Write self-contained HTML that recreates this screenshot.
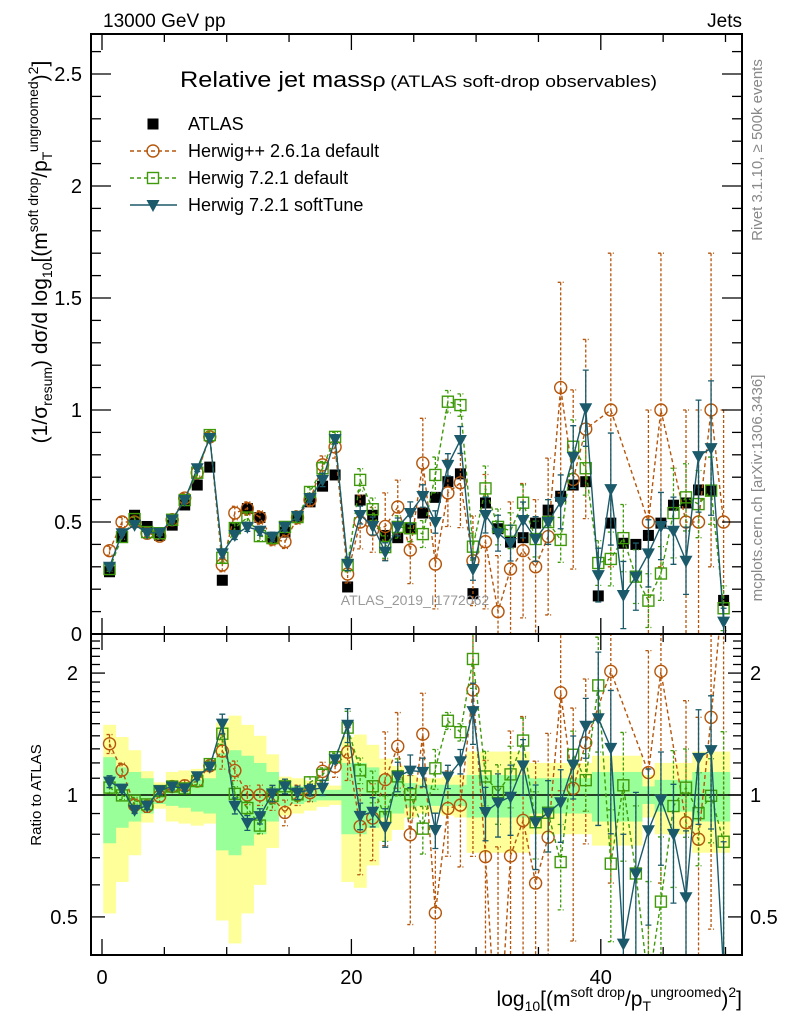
<!DOCTYPE html>
<html><head><meta charset="utf-8">
<style>
html,body{margin:0;padding:0;background:#fff;width:786px;height:1024px;overflow:hidden;}
svg{display:block;font-family:"Liberation Sans",Arial,sans-serif;}
</style></head>
<body>
<svg id="chart" width="786" height="1024" viewBox="0 0 786 1024" xmlns="http://www.w3.org/2000/svg">
<defs>
<clipPath id="clipMain"><rect x="91" y="34" width="651" height="600"/></clipPath>
<clipPath id="clipRatio"><rect x="91" y="634" width="651" height="321"/></clipPath>
</defs>
<rect x="0" y="0" width="786" height="1024" fill="#fff"/>
<g id="bands" clip-path="url(#clipRatio)"></g>
<g id="mainMarks" clip-path="url(#clipMain)"></g>
<g id="ratioMarks" clip-path="url(#clipRatio)"></g>
<g id="axes"></g>

<text x="103" y="27" font-size="19">13000 GeV pp</text>
<text x="742" y="27" font-size="19" text-anchor="end">Jets</text>
<text x="180" y="87" font-size="22" textLength="477" lengthAdjust="spacingAndGlyphs">Relative jet mass<tspan font-size="20">ρ</tspan><tspan font-size="17" dx="4">(ATLAS soft-drop observables)</tspan></text>
<text x="415" y="605" font-size="14" fill="#999" text-anchor="middle">ATLAS_2019_I1772062</text>
<text transform="translate(762,150) rotate(-90)" font-size="15" fill="#888" text-anchor="middle">Rivet 3.1.10, ≥ 500k events</text>
<text transform="translate(762,488) rotate(-90)" font-size="15" fill="#888" text-anchor="middle">mcplots.cern.ch [arXiv:1306.3436]</text>

<text transform="translate(47,252) rotate(-90)" font-size="21" text-anchor="middle">(1/σ<tspan font-size="14" dy="5">resum</tspan><tspan dy="-5">) dσ/d log</tspan><tspan font-size="14" dy="5">10</tspan><tspan dy="-5">[(m</tspan><tspan font-size="14" dy="-9">soft drop</tspan><tspan dy="9">/p</tspan><tspan font-size="14" dy="5">T</tspan><tspan font-size="14" dy="-14">ungroomed</tspan><tspan dy="9">)</tspan><tspan font-size="14" dy="-9">2</tspan><tspan dy="9">]</tspan></text>
<text transform="translate(41,795) rotate(-90)" font-size="15" text-anchor="middle">Ratio to ATLAS</text>
<text x="742" y="1006" font-size="21" text-anchor="end">log<tspan font-size="14" dy="5">10</tspan><tspan dy="-5">[(m</tspan><tspan font-size="14" dy="-9">soft drop</tspan><tspan dy="9">/p</tspan><tspan font-size="14" dy="5">T</tspan><tspan font-size="14" dy="-14">ungroomed</tspan><tspan dy="9">)</tspan><tspan font-size="14" dy="-9">2</tspan><tspan dy="9">]</tspan></text>

<g id="legend"></g>
</svg>
<script>
const atlas=[0.278,0.434,0.53,0.48,0.44,0.486,0.576,0.665,0.745,0.24,0.47,0.56,0.52,0.43,0.455,0.52,0.59,0.66,0.71,0.21,0.598,0.53,0.44,0.43,0.47,0.54,0.61,0.68,0.715,0.18,0.585,0.47,0.41,0.43,0.495,0.553,0.615,0.665,0.68,0.17,0.495,0.405,0.40,0.44,0.495,0.575,0.585,0.643,0.643,0.15];
const herwigpp=[0.372,0.5,0.5,0.45,0.437,0.51,0.607,0.72,0.88,0.308,0.54,0.56,0.52,0.424,0.412,0.52,0.598,0.755,0.835,0.268,0.5,0.465,0.48,0.567,0.375,0.763,0.312,0.63,0.675,0.327,0.412,0.1,0.29,0.372,0.3,0.435,1.1,0.69,0.915,null,1.0,null,null,0.5,1.0,null,0.5,0.5,1.0,0.5];
const herwigppErr=[0.02,0.02,0.02,0.015,0.015,0.015,0.02,0.02,0.02,0.03,0.03,0.03,0.03,0.03,0.03,0.03,0.03,0.04,0.05,0.04,0.12,0.1,0.15,0.12,0.15,0.2,0.2,0.15,0.2,0.2,0.3,0.25,0.3,0.3,0.3,0.35,0.47,0.4,0.4,0,0.7,0,0,0.5,0.7,0,0.5,0.5,0.7,0.5];
const herwig7=[0.29,0.433,0.513,0.455,0.45,0.51,0.598,0.72,0.888,0.34,0.473,0.52,0.437,0.428,0.478,0.522,0.634,0.74,0.88,0.308,0.688,0.557,0.388,0.478,0.472,0.446,0.71,1.037,1.022,0.39,0.65,0.478,0.461,0.586,0.424,0.5,0.42,0.836,0.74,0.317,0.335,0.428,0.256,0.149,0.27,0.54,0.61,0.58,0.64,0.115];
const herwig7Err=[0.01,0.01,0.01,0.01,0.01,0.01,0.01,0.015,0.015,0.02,0.02,0.02,0.02,0.02,0.02,0.02,0.02,0.03,0.02,0.03,0.05,0.05,0.05,0.05,0.06,0.06,0.08,0.05,0.05,0.06,0.1,0.08,0.08,0.08,0.08,0.1,0.1,0.12,0.12,0.1,0.12,0.15,0.12,0.12,0.12,0.2,0.15,0.15,0.15,0.1];
const softTune=[0.3,0.45,0.487,0.452,0.452,0.51,0.598,0.74,0.875,0.36,0.442,0.478,0.461,0.434,0.478,0.527,0.607,0.688,0.87,0.313,0.531,0.482,0.367,0.478,0.54,0.616,0.5,0.755,0.866,0.29,0.531,0.45,0.406,0.509,0.424,0.5,0.59,0.79,1.008,0.263,0.647,0.174,0.256,0.36,0.482,0.461,0.327,0.794,0.83,0.055];
const softTuneErr=[0.01,0.01,0.01,0.01,0.01,0.01,0.01,0.015,0.015,0.02,0.02,0.02,0.02,0.02,0.02,0.02,0.02,0.03,0.02,0.03,0.04,0.04,0.04,0.04,0.05,0.05,0.05,0.05,0.06,0.05,0.08,0.08,0.08,0.08,0.1,0.1,0.12,0.14,0.17,0.12,0.25,0.15,0.15,0.15,0.15,0.15,0.15,0.25,0.3,0.06];
const totalUnc=[0.49,0.39,0.29,0.145,0.075,0.14,0.15,0.16,0.15,0.51,0.57,0.49,0.4,0.26,0.11,0.1,0.085,0.065,0.055,0.39,0.41,0.33,0.23,0.18,0.12,0.1,0.1,0.11,0.12,0.28,0.28,0.28,0.28,0.28,0.2,0.2,0.2,0.2,0.2,0.25,0.25,0.25,0.25,0.12,0.2,0.2,0.2,0.28,0.28,0.28];
const statUnc=[0.24,0.17,0.14,0.1,0.05,0.06,0.07,0.09,0.1,0.27,0.29,0.25,0.2,0.14,0.06,0.05,0.04,0.03,0.03,0.2,0.2,0.17,0.12,0.1,0.07,0.06,0.06,0.06,0.06,0.12,0.12,0.12,0.12,0.12,0.1,0.1,0.1,0.1,0.1,0.14,0.14,0.14,0.14,0.05,0.09,0.09,0.09,0.14,0.14,0.14];
const xTicks=[0,20,40];
const mainTicks=[0,0.5,1,1.5,2,2.5];
const ratioTicks=[0.5,1,2];

const NS="http://www.w3.org/2000/svg";
const L=91,R=742,T=34,M=634,B=955;
function X(v){return 102+12.47*v;}
function BX(i){return X(i*1.005+0.1);}
function YM(v){return 634-224*v;}
function YR(r){return 795-405*Math.log10(r);}
function el(tag,attrs,parent){const e=document.createElementNS(NS,tag);for(const k in attrs)e.setAttribute(k,attrs[k]);parent.appendChild(e);return e;}
const bandsG=document.getElementById('bands');
const mainG=document.getElementById('mainMarks');
const ratioG=document.getElementById('ratioMarks');
const axesG=document.getElementById('axes');
const legG=document.getElementById('legend');

atlas.forEach((a,i)=>{
  const x0=BX(i),x1=BX(i+1);
  const y=el('rect',{x:x0,y:YR(1+totalUnc[i]),width:x1-x0+0.3,height:YR(Math.max(1-totalUnc[i],0.05))-YR(1+totalUnc[i]),fill:'#ffff99'},bandsG);
  
  
});
atlas.forEach((a,i)=>{
  const x0=BX(i),x1=BX(i+1);
  const g=el('rect',{x:x0,y:YR(1+statUnc[i]),width:x1-x0+0.3,height:YR(1-statUnc[i])-YR(1+statUnc[i]),fill:'#99ff99'},bandsG);
  
  
});
const one=el('line',{x1:L,x2:R,y1:YR(1),y2:YR(1),stroke:'#000','stroke-width':1.5},bandsG);



function marker(type,cx,cy,color,parent){
  let m;
  if(type==='sq') m=el('rect',{x:cx-5.5,y:cy-5.5,width:11,height:11,fill:'#000'},parent);
  else if(type==='circ') m=el('circle',{cx:cx,cy:cy,r:6,fill:'none',stroke:color,'stroke-width':1.4},parent);
  else if(type==='osq') m=el('rect',{x:cx-5.5,y:cy-5.5,width:11,height:11,fill:'none',stroke:color,'stroke-width':1.4},parent);
  else m=el('path',{d:`M${cx-6.5},${cy-5} L${cx+6.5},${cy-5} L${cx},${cy+7} Z`,fill:color},parent);
  return m;
}
const series=[
  {name:'herwigpp',vals:herwigpp,err:herwigppErr,color:'#b5560c',dash:'4,3',mk:'circ'},
  {name:'herwig7',vals:herwig7,err:herwig7Err,color:'#3f9a0a',dash:'4,3',mk:'osq'},
  {name:'softtune',vals:softTune,err:softTuneErr,color:'#1b5a6a',dash:null,mk:'tri'}
];
function cx(i){return (BX(i)+BX(i+1))/2;}
function drawSeries(s,parent,yf,ratio){
  let d='';let pen=false;
  s.vals.forEach((v,i)=>{
    if(v===null){return;}
    const val=ratio?v/atlas[i]:v;
    const px=cx(i),py=yf(Math.max(val,1e-3));
    d+=(pen?'L':'M')+px.toFixed(1)+','+py.toFixed(1);pen=true;
  });
  const ln=el('path',{d:d,fill:'none',stroke:s.color,'stroke-width':1.4},parent);
  if(s.dash)ln.setAttribute('stroke-dasharray',s.dash);
  
  
  s.vals.forEach((v,i)=>{
    if(v===null)return;
    const den=ratio?atlas[i]:1;
    const val=v/den,e=s.err[i]/den;
    const px=cx(i);
    const lo=Math.max(val-e,ratio?0.01:-0.1),hi=val+e;
    const y1=yf(hi),y2=yf(lo);
    const eb=el('path',{d:`M${px},${y1}L${px},${y2}M${px-3},${y1}L${px+3},${y1}M${px-3},${y2}L${px+3},${y2}`,stroke:s.color,'stroke-width':1.3,fill:'none'},parent);
    if(s.dash)eb.setAttribute('stroke-dasharray','3,2');
    
    
    const m=marker(s.mk,px,yf(Math.max(val,1e-3)),s.color,parent);
    
    
  });
}
atlas.forEach((a,i)=>{
  const m=marker('sq',cx(i),YM(a),'#000',mainG);
  
  
});
series.forEach(s=>drawSeries(s,mainG,YM,false));
series.forEach(s=>drawSeries(s,ratioG,YR,true));

[[T,M],[M,B]].forEach(([t,b],k)=>{
  const f=el('rect',{x:L,y:t,width:R-L,height:b-t,fill:'none',stroke:'#000','stroke-width':2},axesG);
  
  
});
for(let v=0;v<=52;v++){
  if(v%5!==0)continue;
  const major=xTicks.includes(v)?1:0;
  const len=major?16:8;
  const px=X(v);
  if(px>R)continue;
  [[T,1],[M,-1],[M,1],[B,-1]].forEach(([y0,dir])=>{
    const t=el('line',{x1:px,x2:px,y1:y0,y2:y0+dir*len,stroke:'#000','stroke-width':1.3},axesG);
    
    
  });
}
xTicks.forEach(v=>{
  const t=el('text',{x:X(v),y:984,'font-size':20,'text-anchor':'middle'},axesG);
  t.textContent=v;
  
  
});
for(let k=0;k<=26;k++){
  const v=k/10;const major=(k%5===0);
  const len=major?20:10;const py=YM(v);
  [[L,1],[R,-1]].forEach(([x0,dir])=>{
    const t=el('line',{x1:x0,x2:x0+dir*len,y1:py,y2:py,stroke:'#000','stroke-width':1.3},axesG);
    
    
  });
}
mainTicks.forEach(v=>{
  const t=el('text',{x:82,y:YM(v)+7,'font-size':20,'text-anchor':'end'},axesG);
  t.textContent=v;
  
  
});
const rminor=[0.4,0.5,0.6,0.7,0.8,0.9,1,1.1,1.2,1.3,1.4,1.5,1.6,1.7,1.8,1.9,2,2.1,2.2,2.3,2.4];
rminor.forEach(v=>{
  const py=YR(v);if(py<M||py>B)return;
  const len=ratioTicks.includes(v)?14:9;
  [[L,1],[R,-1]].forEach(([x0,dir])=>{
    const t=el('line',{x1:x0,x2:x0+dir*len,y1:py,y2:py,stroke:'#000','stroke-width':1.3},axesG);
    
    
  });
});
ratioTicks.forEach(v=>{
  const t=el('text',{x:78,y:YR(v)+7,'font-size':20,'text-anchor':'end'},axesG);
  t.textContent=v;
  
  
  const t2=el('text',{x:750,y:YR(v)+7,'font-size':20},axesG);
  t2.textContent=v;
  
  
});
const legItems=[['ATLAS','sq','#000',null],['Herwig++ 2.6.1a default','circ','#b5560c','4,3'],['Herwig 7.2.1 default','osq','#3f9a0a','4,3'],['Herwig 7.2.1 softTune','tri','#1b5a6a',null]];
legItems.forEach((it,k)=>{
  const y=124+27*k;
  const g=el('g',{},legG);
  
  
  if(k>0){const l=el('line',{x1:130,x2:177,y1:y,y2:y,stroke:it[2],'stroke-width':1.4},g);if(it[3])l.setAttribute('stroke-dasharray',it[3]);}
  marker(it[1],153,y,it[2],g);
  const t=el('text',{x:188,y:y+6,'font-size':18},g);
  t.textContent=it[0];
});
</script>
</body></html>
